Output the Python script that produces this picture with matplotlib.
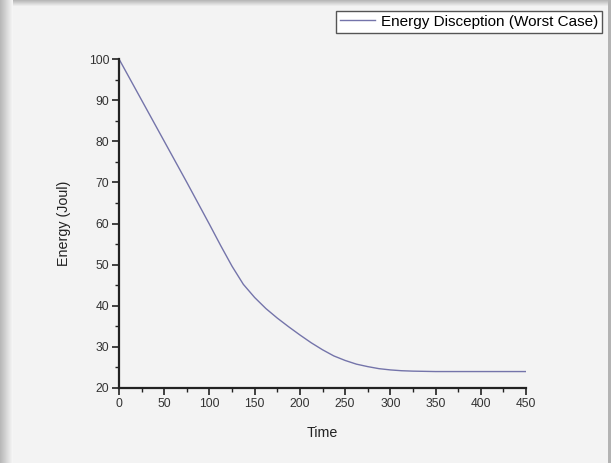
import numpy as np
import matplotlib.pyplot as plt
from matplotlib.ticker import MultipleLocator

# Data
time = [0, 25, 50, 75, 100, 112.5, 125, 137.5, 150, 162.5, 175, 187.5,
        200, 212.5, 225, 237.5, 250, 262.5, 275, 287.5, 300, 312.5, 325,
        350, 400, 450]
energy = [100, 90, 80, 70, 59.8, 54.6, 49.6, 45.2, 42.0, 39.3, 37.0, 34.9,
          32.9, 31.0, 29.3, 27.8, 26.7, 25.8, 25.2, 24.7, 24.4, 24.2, 24.1,
          24.0, 24.0, 24.0]

plt.rcParams['font.family'] = ['Liberation Sans', 'DejaVu Sans']

W, H = 611, 463
fig = plt.figure(figsize=(W / 100, H / 100), dpi=100)

# background panel with a soft shadow on the left/top edges
bg = np.full((H, W), 0.957)
for i in range(13):
    bg[:, i] = 0.72 + 0.02 * i
for j in range(6):
    bg[j, 13:] = np.minimum(bg[j, 13:], 0.72 + 0.04 * j)
bg[:, 608:] = 0.70
bg_ax = fig.add_axes([0, 0, 1, 1])
bg_ax.imshow(bg, cmap='gray', vmin=0, vmax=1, aspect='auto')
bg_ax.axis('off')

ax = fig.add_axes([119 / W, 1 - 388 / H, (526 - 119) / W, (388 - 59) / H])
ax.patch.set_alpha(0)
line, = ax.plot(time, energy, color='#7474aa', lw=1.0,
                label='Energy Disception (Worst Case)')

ax.set_xlim(0, 450)
ax.set_ylim(20, 100)
ax.xaxis.set_major_locator(MultipleLocator(50))
ax.xaxis.set_minor_locator(MultipleLocator(25))
ax.yaxis.set_major_locator(MultipleLocator(10))
ax.yaxis.set_minor_locator(MultipleLocator(5))
for s in ['top', 'right']:
    ax.spines[s].set_visible(False)
for s in ['left', 'bottom']:
    ax.spines[s].set_linewidth(1.6)
    ax.spines[s].set_color('#222222')
ax.tick_params(which='major', length=5, width=1.2, labelsize=8.7,
               color='#222222', labelcolor='#333333', pad=2)
ax.tick_params(which='minor', length=3, width=1.0, color='#222222')

ax.set_xlabel('Time', fontsize=10.3, color='#222222', labelpad=12)
ax.set_ylabel('Energy (Joul)', fontsize=10.3, color='#222222', labelpad=13)

fig.legend(handles=[line], loc='upper right', bbox_to_anchor=(602 / W, 1 - 11 / H),
           fontsize=11, frameon=True, fancybox=False, edgecolor='#555555',
           facecolor='white', framealpha=1, handlelength=2.3, handletextpad=0.4,
           borderpad=0.25, borderaxespad=0)

fig.savefig('out.png', dpi=100)
